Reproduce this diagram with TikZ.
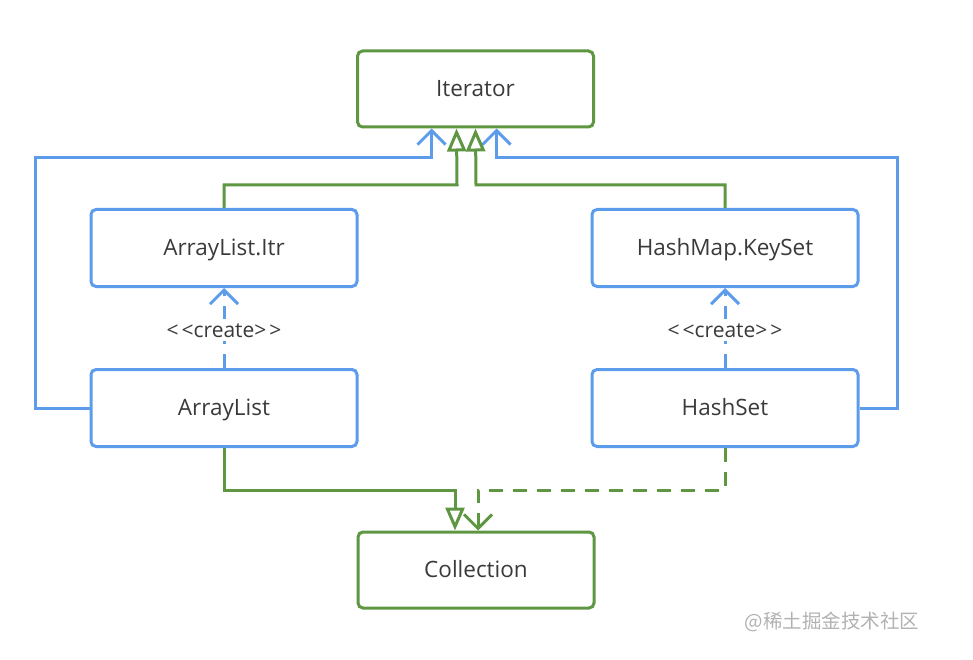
\documentclass[tikz,border=0pt]{standalone}
\usepackage{fontspec}
\setmainfont{Open Sans}
\newfontfamily\cjk{Noto Sans CJK SC}
\usetikzlibrary{arrows.meta,calc}
\definecolor{grn}{HTML}{5E9642}
\definecolor{blu}{HTML}{5C9CEB}
\definecolor{txt}{HTML}{3A3A3A}
\tikzset{
  boxtext/.style={font=\fontsize{22.5}{26}\selectfont,text=txt,text height=17pt,text depth=2pt},
  gbox/.style={draw=grn,line width=3pt,rounded corners=5pt,minimum width=236pt,minimum height=76pt,boxtext},
  bbox/.style={draw=blu,line width=3pt,rounded corners=5pt,minimum width=266pt,minimum height=77pt,boxtext},
  bl/.style={draw=blu,line width=3pt},
  gl/.style={draw=grn,line width=3pt},
  barb/.tip={Straight Barb[length=14pt,width=28pt,line width=3pt]},
  tri/.tip={Triangle[open,length=23pt,width=19pt,fill=white,line width=3pt]},
  lbl/.style={fill=white,inner sep=2pt,font=\fontsize{21}{24}\selectfont,text=txt,text height=16pt,text depth=2pt}
}
\begin{document}
\begin{tikzpicture}[x=1pt,y=-1pt]
\useasboundingbox (0,0) rectangle (973,660);
\node[gbox] (it) at (475.5,89) {Iterator};
\node[bbox] (itr) at (224,248) {ArrayList.Itr};
\node[bbox] (ks) at (725,248) {HashMap.KeySet};
\node[bbox] (al) at (224,408) {ArrayList};
\node[bbox] (hs) at (725,408) {HashSet};
\node[gbox] (col) at (476,570) {Collection};
\coordinate (i1) at ($(it.south)+(-44,0)$);
\coordinate (i2) at ($(it.south)+(-19,0)$);
\coordinate (i3) at ($(it.south)+(0,0)$);
\coordinate (i4) at ($(it.south)+(21,0)$);
\coordinate (c1) at ($(col.north)+(-21,0)$);
\coordinate (c2) at ($(col.north)+(2,0)$);
% blue associations to Iterator
\draw[bl,-barb] (al.west) -| (35,158) -| (i1);
\draw[bl,-barb] (hs.east) -| (897,158) -| (i4);
% green realizations to Iterator
\draw[gl,-tri] (itr.north) |- (457,185) -- (i2);
\draw[gl,-tri] (ks.north) |- (476,185) -- (i3);
% create dependencies
\draw[bl,dash pattern=on 14pt off 10pt,-barb] (al.north) -- (itr.south) node[lbl,pos=0.47] (cl1) {<\hspace{3pt}<create>\hspace{3pt}>};
\draw[bl,dash pattern=on 14pt off 10pt,-barb] (hs.north) -- (ks.south) node[lbl,pos=0.47] (cl2) {<\hspace{3pt}<create>\hspace{3pt}>};
% to Collection
\draw[gl,-tri] (al.south) |- (455,490) -- (c1);
\draw[gl,dash pattern=on 14pt off 10pt,-barb] (hs.south) |- (478,490) -- (c2);
\node[font=\cjk\fontsize{19.5}{22}\selectfont,text=black!30] (wm) at (832,622) {@稀土掘金技术社区};
\end{tikzpicture}
\end{document}
